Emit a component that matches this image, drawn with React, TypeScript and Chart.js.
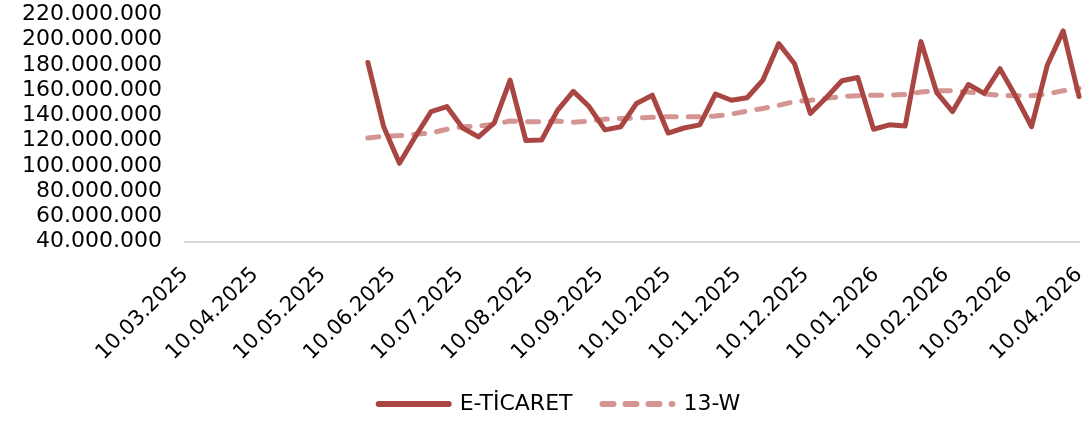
import React, { useEffect, useRef } from 'react';
import { Chart, registerables } from 'chart.js';

Chart.register(...registerables);

// Weekly observation dates (Fridays)
const weekDates = [
  '2025-05-30', '2025-06-06', '2025-06-13', '2025-06-20', '2025-06-27',
  '2025-07-04', '2025-07-11', '2025-07-18', '2025-07-25', '2025-08-01',
  '2025-08-08', '2025-08-15', '2025-08-22', '2025-08-29', '2025-09-05',
  '2025-09-12', '2025-09-19', '2025-09-26', '2025-10-03', '2025-10-10',
  '2025-10-17', '2025-10-24', '2025-10-31', '2025-11-07', '2025-11-14',
  '2025-11-21', '2025-11-28', '2025-12-05', '2025-12-12', '2025-12-19',
  '2025-12-26', '2026-01-02', '2026-01-09', '2026-01-16', '2026-01-23',
  '2026-01-30', '2026-02-06', '2026-02-13', '2026-02-20', '2026-02-27',
  '2026-03-06', '2026-03-13', '2026-03-20', '2026-03-27', '2026-04-03',
  '2026-04-10',
];

// E-TİCARET weekly values (millions)
const eTicaret = [
  182, 131, 102, 123, 143, 147, 130, 123, 134, 168,
  120, 120.5, 144, 159, 147, 128.5, 131, 149.5, 156, 126,
  130, 132.5, 157, 152, 154, 168, 197, 181, 141.5, 154,
  167.5, 170, 129, 132.5, 131.5, 198.5, 158, 143, 164.5, 157.5,
  177, 155, 131, 180, 207, 155,
];

// 13-week moving average (millions)
const w13 = [
  122, 123.5, 124, 125, 126, 129, 131, 131.5, 133, 135.5,
  135, 135, 135.5, 134.5, 135.5, 137, 137.5, 138, 138.5, 139,
  139, 139, 139.5, 141, 143.5, 145.5, 148, 151, 152, 153.5,
  155, 155.5, 156, 156, 156.5, 158.5, 159.5, 159.5, 158.5, 157,
  156, 155.5, 155.5, 157, 159.5, 161.5,
];

const tickLabels = [
  '10.03.2025', '10.04.2025', '10.05.2025', '10.06.2025', '10.07.2025',
  '10.08.2025', '10.09.2025', '10.10.2025', '10.11.2025', '10.12.2025',
  '10.01.2026', '10.02.2026', '10.03.2026', '10.04.2026',
];

const seriesNames = ['E-TİCARET', '13-W'];
const yMin = 40;
const yMax = 220;
const yStep = 20;

const dayOfIso = (s: string) => {
  const [y, m, d] = s.split('-').map(Number);
  return Date.UTC(y, m - 1, d) / 86400000;
};
const dayOfLabel = (s: string) => {
  const [d, m, y] = s.split('.').map(Number);
  return Date.UTC(y, m - 1, d) / 86400000;
};
const fmtThousands = (v: number) =>
  Math.round(v).toString().replace(/\B(?=(\d{3})+(?!\d))/g, '.');

const FONT = "'DejaVu Sans', sans-serif";
const SOLID = '#A94643';
const DASHED = '#D59593';

const shiftLegend = {
  id: 'shiftLegend',
  afterLayout(chart: any) {
    if (chart.legend) {
      chart.legend.left += 16;
      chart.legend.right += 16;
    }
  },
};

export default function App() {
  const ref = useRef<HTMLCanvasElement | null>(null);

  useEffect(() => {
    const canvas = ref.current;
    if (!canvas) return;
    const tickDays = tickLabels.map(dayOfLabel);
    const chart = new Chart(canvas, {
      type: 'line',
      data: {
        datasets: [
          {
            label: seriesNames[0],
            data: weekDates.map((d, i) => ({ x: dayOfIso(d), y: eTicaret[i] })),
            borderColor: SOLID,
            backgroundColor: SOLID,
            borderWidth: 5,
            borderCapStyle: 'round',
            borderJoinStyle: 'round',
            pointRadius: 0,
            tension: 0,
            clip: false,
          } as any,
          {
            label: seriesNames[1],
            data: weekDates.map((d, i) => ({ x: dayOfIso(d), y: w13[i] })),
            borderColor: DASHED,
            backgroundColor: DASHED,
            borderWidth: 5,
            borderDash: [11, 12],
            borderCapStyle: 'round',
            borderJoinStyle: 'round',
            pointRadius: 0,
            tension: 0,
            clip: false,
          } as any,
        ],
      },
      options: {
        animation: false,
        responsive: false,
        devicePixelRatio: 1,
        layout: { padding: { left: 8, right: 10, top: 14.5, bottom: 0 } },
        plugins: {
          tooltip: { enabled: false },
          legend: {
            position: 'bottom',
            labels: {
              usePointStyle: true,
              pointStyle: 'line',
              pointStyleWidth: 70,
              padding: 30,
              color: '#000',
              font: { family: FONT, size: 22 },
              generateLabels: (ch: any) =>
                ch.data.datasets.map((ds: any, i: number) => ({
                  text: ds.label,
                  fillStyle: ds.borderColor,
                  strokeStyle: ds.borderColor,
                  lineWidth: 6,
                  lineDash: ds.borderDash || [],
                  lineCap: 'round',
                  pointStyle: 'line',
                  hidden: false,
                  datasetIndex: i,
                  fontColor: '#000',
                })),
            },
          },
        },
        scales: {
          x: {
            type: 'linear',
            min: tickDays[0],
            max: tickDays[tickDays.length - 1],
            grid: { display: false, drawTicks: false },
            border: { display: true, color: '#d9d9d9', width: 2 },
            afterBuildTicks: (scale: any) => {
              scale.ticks = tickDays.map((v) => ({ value: v }));
            },
            afterFit: (scale: any) => {
              scale.height = 121.5;
              scale.paddingLeft = 0;
              scale.paddingRight = 0;
            },
            ticks: {
              autoSkip: false,
              maxRotation: 45,
              minRotation: 45,
              padding: 21,
              color: '#000',
              font: { family: FONT, size: 21 },
              callback: (value: any) => {
                const idx = tickDays.indexOf(Number(value));
                return idx >= 0 ? tickLabels[idx] : '';
              },
            },
          },
          y: {
            type: 'linear',
            min: yMin,
            max: yMax,
            grid: { display: false, drawTicks: false },
            border: { display: false },
            afterFit: (scale: any) => {
              scale.width = 177;
              scale.paddingTop = 0;
              scale.paddingBottom = 0;
            },
            ticks: {
              autoSkip: false,
              stepSize: yStep,
              padding: 23,
              color: '#000',
              font: { family: FONT, size: 22 },
              callback: (value: any) => fmtThousands(Number(value) * 1000000),
            },
          },
        },
      } as any,
      plugins: [shiftLegend],
    });
    return () => chart.destroy();
  }, []);

  return (
    <div style={{ position: 'absolute', left: 0, top: 0, width: 1089, height: 425, background: '#fff' }}>
      <canvas ref={ref} width={1089} height={425} style={{ width: 1089, height: 425, display: 'block' }} />
    </div>
  );
}
